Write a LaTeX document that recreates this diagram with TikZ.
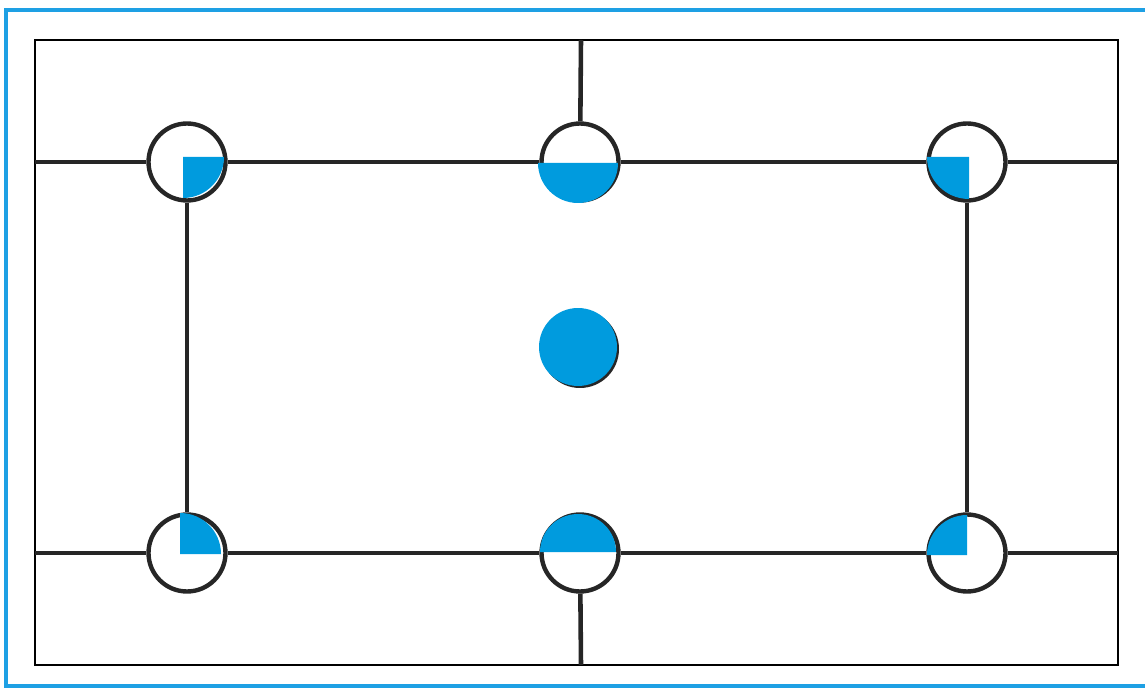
\documentclass[tikz,border=0pt]{standalone}
\usepackage{tikz}
\usepackage{xcolor}
\definecolor{bleu}{RGB}{0,155,222}
\definecolor{bleuCadre}{RGB}{30,160,228}
\tikzset{
Anneau/.style={
 circle,
 draw=black!85,
 line width=2.5pt,
 minimum size=1.54cm,
 inner sep=0pt
 },
Trait/.style={
 draw=black!85,
 line width=2.6pt
 },
Cadre/.style={
 draw=black,
 line width=1.1pt
 },
Remplir/.style={
 fill=bleu
 },
Disque/.style={
 circle,
 fill=bleu,
 minimum size=1.56cm,
 inner sep=0pt
 }
}

\begin{document}
\begin{tikzpicture}[x=0.02cm,y=-0.02cm]
\useasboundingbox (0,0) rectangle (1145,688);
\draw[bleuCadre,line width=2.3pt] (6,10) rectangle (1152,686);
\draw[Cadre] (35,40) rectangle (1118,665);
\coordinate (hautG) at (35,162);
\coordinate (hautD) at (1118,162);
\coordinate (basG) at (35,553);
\coordinate (basD) at (1118,553);
\coordinate (haut) at (581,40);
\coordinate (bas) at (581,665);
\node[Anneau] (hg) at (187,162) {};
\node[Anneau] (hm) at (580,162) {};
\node[Anneau] (hd) at (967,162) {};
\node[Anneau] (bg) at (187,553) {};
\node[Anneau] (bm) at (580,553) {};
\node[Anneau] (bd) at (967,553) {};
\draw[Trait] (hautG) -- (hg);
\draw[Trait] (hg) -- (hm);
\draw[Trait] (hm) -- (hd);
\draw[Trait] (hd) -- (hautD);
\draw[Trait] (basG) -- (bg);
\draw[Trait] (bg) -- (bm);
\draw[Trait] (bm) -- (bd);
\draw[Trait] (bd) -- (basD);
\draw[Trait] (hg) -- (bg);
\draw[Trait] (hd) -- (bd);
\draw[Trait] (haut) -- (hm);
\draw[Trait] (bm) -- (bas);
% secteurs bleus
\fill[Remplir] (183,157) -- ++(0:41) arc[start angle=0,end angle=90,radius=41] -- cycle;
\fill[Remplir] (578,163) -- ++(0:40) arc[start angle=0,end angle=180,radius=40] -- cycle;
\fill[Remplir] (969,157) -- ++(90:42) arc[start angle=90,end angle=180,radius=42] -- cycle;
\fill[Remplir] (180,554) -- ++(270:41) arc[start angle=270,end angle=360,radius=41] -- cycle;
\fill[Remplir] (578,552) -- ++(180:38) arc[start angle=180,end angle=360,radius=38] -- cycle;
\fill[Remplir] (967,555) -- ++(180:40) arc[start angle=180,end angle=270,radius=40] -- cycle;
% disque central
\fill[black!85] (580,349) circle (39);
\node[Disque] (centre) at (578,347) {};
\end{tikzpicture}
\end{document}
